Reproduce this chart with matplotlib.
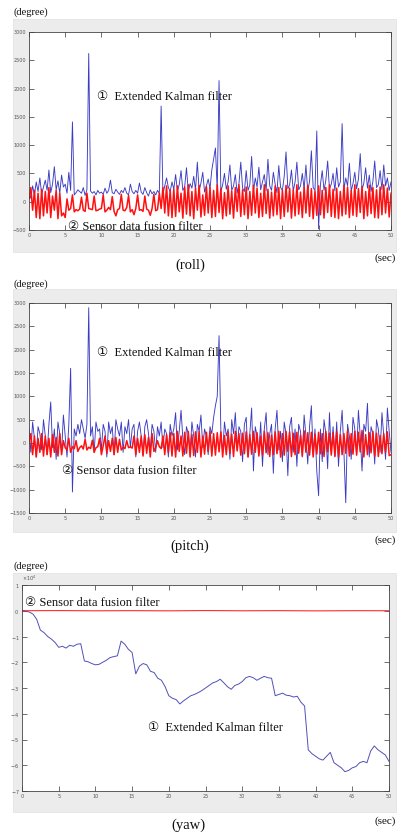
#!/usr/bin/env python3
"""
Roll / pitch / yaw comparison: Extended Kalman filter vs sensor data fusion filter
"""

import numpy as np
import matplotlib
matplotlib.use("Agg")
import matplotlib.pyplot as plt
from matplotlib.patches import Rectangle

# ---- data (degree), sampled every 0.25 s over 0..50 s ----
roll_ekf = [
    150, 60, 280, 120, 350, 180, 420, 130, 260, 380,
    200, 560, 160, 310, 620, 210, 370, 150, 470, 260,
    310, 150, 520, 200, 1410, 120, 160, 210, 180, 150,
    250, 110, 210, 2620, 190, 150, 180, 120, 200, 150,
    170, 130, 240, 150, 200, 380, 160, 140, 220, 170,
    130, 200, 160, 250, 150, 120, 310, 180, 140, 200,
    150, 330, 170, 130, 250, 160, 100, 210, 140, 180,
    120, 200, 150, 1690, 130, 280, 420, 250, 180, 350,
    220, 480, 190, 300, 550, 200, 260, 600, 180, 320,
    240, 450, 210, 700, 190, 330, 520, 170, 280, 400,
    230, 560, 750, 950, 200, 2140, 180, 300, 500, 220,
    350, 650, 200, 280, 480, 150, 320, 700, 240, 180,
    550, 200, 300, 800, 180, 420, 260, 610, 210, 350,
    480, 190, 750, 280, 200, 520, 310, 160, 640, 250,
    200, 450, 880, 230, 300, 560, 190, 350, 700, 210,
    280, 500, 220, 650, 180, 360, 900, 250, 200, 1250,
    -480, 300, 550, 200, 380, 720, 230, 310, 500, 190,
    600, 260, 350, 1380, 220, 420, 280, 680, 190, 320,
    520, 230, 400, 850, 210, 330, 600, 240, 470, 180,
    360, 720, 250, 300, 550, 210, 650, 280, 420, 200,
    350,
]
roll_sdf = [
    50, 250, -150, 200, -280, 150, -300, 220, -250, 180,
    -200, 250, -280, 100, -150, 200, -300, 150, -250, -200,
    -280, 50, -150, -120, 120, -180, -140, -160, -130, 80,
    -150, -170, 150, -120, -130, -140, 100, -160, -150, -130,
    -120, 120, -180, -150, -100, -140, 90, -170, -250, -140,
    -120, 130, -150, -160, -100, 110, -180, -140, -230, -120,
    120, -150, -140, -170, 100, -130, -150, -240, -120, 130,
    -160, -140, 150, -120, 250, -200, 280, -250, 200, -280,
    220, -260, 280, -180, 150, -290, 260, -220, 300, -250,
    180, -300, 240, -150, 290, -270, 120, -240, 270, -200,
    250, -280, 200, -260, 300, -190, 230, -300, 160, -250,
    280, -220, 190, -290, 250, -170, 300, -260, 210, -230,
    260, -300, 180, -240, 290, -200, 240, -280, 150, -260,
    300, -210, 220, -290, 170, -250, 280, -230, 250, -300,
    200, -260, 290, -180, 240, -290, 210, -250, 300, -220,
    170, -280, 260, -200, 290, -260, 230, -300, 190, -240,
    280, -230, 200, -290, 250, -190, 300, -260, 220, -280,
    240, -300, 180, -250, 290, -220, 260, -280, 200, -240,
    300, -260, 230, -190, 270, -300, 180, -250, 290, -210,
    250, -280, 210, -290, 260, -230, 300, -200, 240, -270,
    150,
]
pitch_ekf = [
    300, -200, 450, 100, -300, 350, 200, -150, 500, 150,
    -250, 400, 880, -100, 300, -350, 450, 200, -200, 600,
    150, -300, 400, 1600, -1050, 300, 150, 400, 200, 500,
    300, 100, 400, 2900, 150, 350, -200, 450, 250, 300,
    -150, 400, 250, -300, 450, 200, 350, -250, 500, 300,
    150, 450, -200, 350, 200, 500, -100, 300, 400, -300,
    250, 450, 150, -250, 350, 500, 200, -150, 400, 250,
    -200, 350, 150, 450, -100, 300, 200, -300, 400, 150,
    300, 650, -150, 250, 700, 100, -250, 350, 200, -200,
    450, 150, -300, 400, 250, 600, -100, 300, 150, -250,
    350, 200, 550, 800, 1000, 2300, 250, -200, 450, 150,
    300, -350, 500, 200, 650, -150, 350, 250, -400, 400,
    550, -300, 200, 750, -600, 350, 150, -200, 450, -500,
    300, 650, -250, 200, 400, -650, 300, 700, -150, 250,
    -400, 450, 200, -700, 350, 550, -200, 300, -500, 400,
    250, -300, 600, 150, -450, 350, 800, -250, 300, -600,
    -1130, 300, -400, 500, 200, -550, 650, -200, 350, -300,
    450, -500, 250, 700, -200, -1280, 400, 150, -350, 550,
    300, -250, 700, 150, -600, 400, 250, 850, -300, 350,
    200, -450, 500, 300, -200, 650, 150, -350, 750, 250,
    -200,
]
pitch_sdf = [
    0, 200, -250, 150, -300, 100, -200, 200, -280, 150,
    -250, 100, -300, 180, -200, 120, -280, 200, -250, 50,
    -100, -150, 100, -200, -80, -120, 50, -180, -100, -60,
    -130, 80, -150, -90, -120, 60, -200, -100, -80, 100,
    -250, -60, 150, -220, 50, -180, 100, -250, 120, -200,
    80, -150, -90, -120, 50, -100, -80, -110, 150, -250,
    100, -200, 150, -280, 180, -220, 120, -300, 200, -180,
    -100, 50, -80, -120, 150, -250, 180, -200, 220, -280,
    200, -300, 250, -180, 150, -280, 230, -220, 250, -300,
    180, -270, 240, -200, 250, -300, 150, -240, 230, -180,
    250, -280, 200, -260, 220, -190, 240, -300, 160, -250,
    230, -220, 190, -290, 250, -170, 200, -260, 210, -230,
    240, -300, 180, -240, 250, -200, 220, -280, 150, -260,
    250, -210, 220, -290, 170, -250, 240, -230, 250, -300,
    200, -260, 250, -180, 240, -290, 210, -250, 230, -220,
    170, -280, 260, -200, 220, -260, 230, -300, 190, -240,
    230, -230, 200, -290, 250, -190, 210, -260, 220, -280,
    240, -300, 180, -250, 200, -220, 260, -280, 200, -240,
    250, -260, 230, -190, 270, -300, 180, -250, 220, -210,
    250, -280, 210, -290, 160, -230, 200, -200, 240, -270,
    -250,
]
# yaw sampled every 0.5 s
yaw_ekf = [
    0, -200, -500, -1300, -3300, -7500, -8500, -10000, -11000, -12300,
    -14200, -13800, -14500, -13400, -13800, -13000, -12800, -19500, -19800, -20500,
    -21000, -20800, -20000, -19200, -18200, -17800, -17500, -11800, -13000, -15000,
    -16200, -24500, -21500, -20500, -21000, -23500, -24000, -26200, -27000, -29500,
    -33000, -34000, -34500, -36200, -35000, -34000, -33000, -32500, -31800, -31000,
    -30000, -29000, -28000, -27500, -26600, -28000, -29500, -30500, -29000, -28500,
    -27500, -26000, -25500, -26000, -27000, -26200, -25500, -26000, -26200, -33000,
    -32500, -32000, -32800, -33000, -33500, -33200, -35500, -37000, -54000, -55500,
    -56500, -57500, -58000, -56500, -55000, -59000, -60000, -61000, -62500, -62000,
    -61000, -60500, -59000, -58500, -59000, -54500, -52500, -54000, -55000, -56000,
    -58500,
]
yaw_sdf = [0, 50, -30, 20, -40, 60, -20, 30, -50, 10, 0]

x_ticks = list(range(0, 51, 5))
roll_ticks = list(range(-500, 3001, 500))
pitch_ticks = list(range(-1500, 3001, 500))
yaw_ticks = list(range(-70000, 10001, 10000))

W, H = 400, 833
BLUE = '#3b3bc4'
RED = '#ff1010'
SERIF = ['Liberation Serif', 'DejaVu Serif', 'DejaVu Sans']


def fy(y):
    return 1 - y / H


def px_axes(fig, left, top, right, bottom):
    return fig.add_axes([left / W, fy(bottom), (right - left) / W, (bottom - top) / H])


def gray_frame(fig, left, top, right, bottom):
    fig.add_artist(Rectangle((left / W, fy(bottom)), (right - left) / W, (bottom - top) / H,
                             transform=fig.transFigure, facecolor='#ececec',
                             edgecolor='#e0e0e0', linewidth=0.5, zorder=0))


def style_axes(ax, yticks, ylim):
    ax.set_xlim(0, 50)
    ax.set_ylim(*ylim)
    ax.set_xticks(x_ticks)
    ax.set_yticks(yticks)
    ax.tick_params(direction='in', length=3.5, width=0.5, top=True, right=True,
                   labelsize=3.5, labelcolor='#555555', color='#333333', pad=2)
    for s in ax.spines.values():
        s.set_linewidth(0.6)
        s.set_color('#444444')


def label(fig, x, y, s, size, ha='left'):
    fig.text(x / W, fy(y), s, fontsize=size, family=SERIF, ha=ha, va='center', color='#111111')


fig = plt.figure(figsize=(W / 100, H / 100), dpi=100)
fig.patch.set_facecolor('white')

# ---- roll ----
gray_frame(fig, 13, 19, 396, 252)
ax1 = px_axes(fig, 29, 32, 391, 230)
ax1.plot(np.linspace(0, 50, len(roll_ekf)), roll_ekf, color=BLUE, linewidth=0.65)
ax1.plot(np.linspace(0, 50, len(roll_sdf)), roll_sdf, color=RED, linewidth=1.1)
style_axes(ax1, roll_ticks, (-500, 3000))
label(fig, 13, 12, '(degree)', 7.5)
label(fig, 97, 97, '①  Extended Kalman filter', 9)
label(fig, 68, 227, '② Sensor data fusion filter', 9)
label(fig, 190, 265, '(roll)', 10.5, ha='center')
label(fig, 385, 258, '(sec)', 8, ha='center')

# ---- pitch ----
gray_frame(fig, 13, 289, 396, 532)
ax2 = px_axes(fig, 29, 303, 391, 513)
ax2.plot(np.linspace(0, 50, len(pitch_ekf)), pitch_ekf, color=BLUE, linewidth=0.65)
ax2.plot(np.linspace(0, 50, len(pitch_sdf)), pitch_sdf, color=RED, linewidth=1.1)
style_axes(ax2, pitch_ticks, (-1500, 3000))
label(fig, 13, 284, '(degree)', 7.5)
label(fig, 97, 353, '①  Extended Kalman filter', 9)
label(fig, 62, 471, '② Sensor data fusion filter', 9)
label(fig, 190, 546, '(pitch)', 10.5, ha='center')
label(fig, 385, 540, '(sec)', 8, ha='center')

# ---- yaw ----
gray_frame(fig, 13, 573, 396, 812)
ax3 = px_axes(fig, 22, 585, 389, 791)
ax3.plot(np.linspace(0, 50, len(yaw_ekf)), yaw_ekf, color='#5050b8', linewidth=0.7)
ax3.plot(np.linspace(0, 50, len(yaw_sdf)), yaw_sdf, color=RED, linewidth=0.7)
style_axes(ax3, yaw_ticks, (-70000, 10000))
ax3.ticklabel_format(axis='y', style='sci', scilimits=(0, 0), useMathText=True)
ax3.yaxis.get_offset_text().set_fontsize(3.5)
ax3.yaxis.get_offset_text().set_color('#555555')
label(fig, 13, 566, '(degree)', 7.5)
label(fig, 25, 603, '② Sensor data fusion filter', 9)
label(fig, 148, 728, '①  Extended Kalman filter', 9)
label(fig, 188, 825, '(yaw)', 10.5, ha='center')
label(fig, 385, 821, '(sec)', 8, ha='center')

fig.savefig('out.png', dpi=100)
